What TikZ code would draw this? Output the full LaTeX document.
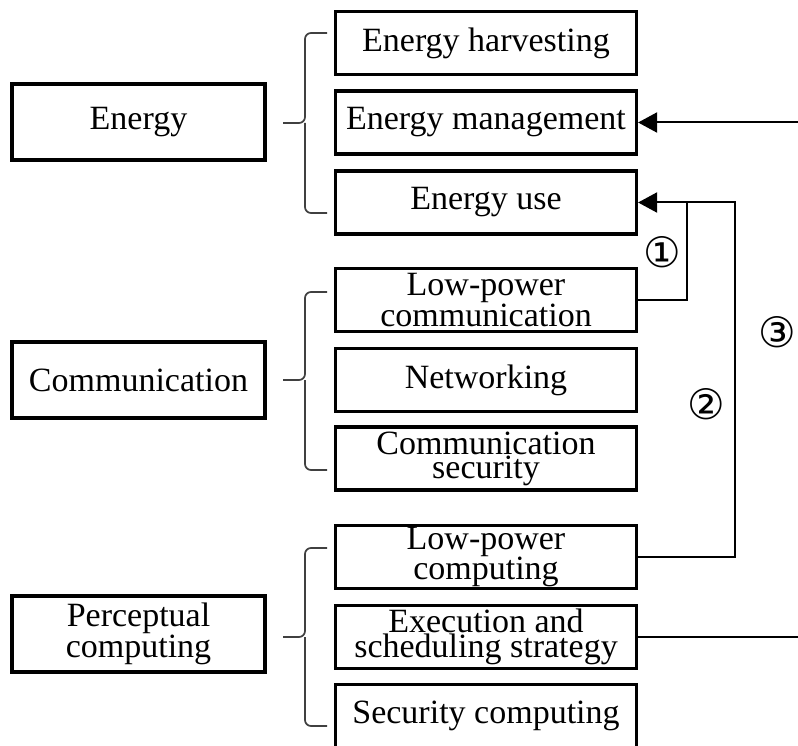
\documentclass[tikz,border=0pt]{standalone}
\usepackage{fontspec}
\setmainfont{Liberation Serif}
\newfontfamily\circfont{DejaVu Sans}
\usetikzlibrary{arrows.meta}

\tikzset{
  mainbox/.style={draw, line width=3.2pt, minimum width=253pt, minimum height=76pt,
    inner sep=0pt, align=center, font=\fontsize{34}{22}\selectfont},
  subbox/.style={draw, line width=3.2pt, minimum width=301pt, minimum height=63pt,
    inner sep=0pt, align=center, font=\fontsize{34}{22}\selectfont},
  brace/.style={black!75, line width=1.7pt, rounded corners=6pt},
  link/.style={line width=2pt},
  num/.style={font=\circfont\fontsize{42}{42}\selectfont}
}

\begin{document}
\begin{tikzpicture}[x=1pt, y=-1pt]
  \useasboundingbox (0,0) rectangle (798,746);
  % groups
  \node[mainbox] (energy) at (138.5,122) {Energy};
  \node[mainbox] (comm) at (138.5,380) {Communication};
  \node[mainbox] (percep) at (138.5,634) {Perceptual\\computing};
  % sub items
  \foreach \name/\y/\lab in {harv/43/{Energy harvesting}, manage/122.5/{Energy management},
      use/202.5/{Energy use}, lpcomm/300/{Low-power\\communication}, netw/380/{Networking},
      commsec/458.5/{Communication\\security}, lpcomp/557/{Low-power\\computing},
      exec/637/{Execution and\\scheduling strategy}, seccomp/716/{Security computing}}
    \node[subbox] (\name) at (486,\y) {\lab};
  % braces
  \foreach \t/\m/\b in {33/123/213, 292/380/470, 548/637/726} {
    \draw[brace] (327,\t) -- (305,\t) -- (305,\m) -- (283,\m);
    \draw[brace] (327,\b) -- (305,\b) -- (305,\m);
  }
  % links
  \coordinate (rtop) at (798,122.5);
  \coordinate (rbot) at (798,637);
  \coordinate (j1) at (687,202.5);
  \coordinate (j2) at (735,202.5);
  \draw[link, -{Triangle[length=19pt,width=20pt]}] (rtop) -- (manage.east);
  \draw[link] (exec.east) -- (rbot);
  \draw[link] (lpcomm.east) -| (j1);
  \draw[link, -{Triangle[length=19pt,width=20pt]}] (lpcomp.east) -| (j2) -- (use.east);
  \node[num] (n1) at (662,252) {①};
  \node[num] (n2) at (706,404) {②};
  \node[num] (n3) at (777,332) {③};
\end{tikzpicture}
\end{document}
